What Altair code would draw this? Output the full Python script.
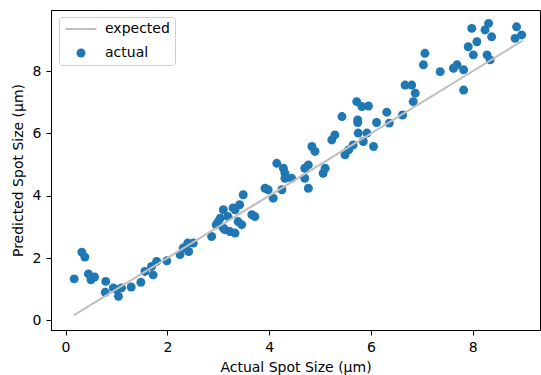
import altair as alt
import pandas as pd

# ---- data ----
actual_x = [0.17, 0.32, 0.38, 0.45, 0.50, 0.57, 0.79, 0.78, 0.94, 1.01, 1.04, 1.10, 1.29,
            1.48, 1.56, 1.69, 1.72, 1.79, 1.99, 2.25, 2.31, 2.40, 2.51, 2.42, 2.87,
            2.96, 3.00, 3.04, 3.10, 3.13, 3.10, 3.23, 3.33, 3.19, 3.29, 3.33, 3.42, 3.49,
            3.39, 3.46, 3.66, 3.72,
            3.92, 3.98, 4.08, 4.15, 4.28, 4.31, 4.31, 4.25, 4.44, 4.70, 4.77, 4.70, 4.77,
            4.84, 4.90, 5.06, 5.10, 5.23, 5.29, 5.49, 5.56, 5.43, 5.72, 5.82, 5.95, 5.74,
            5.74, 5.75, 5.92, 5.65, 5.85, 6.05, 6.11, 6.31, 6.36, 6.62, 6.67, 6.80, 6.87,
            6.83, 7.06, 7.03, 7.36, 7.62, 7.69, 7.82, 7.82, 7.98, 7.91, 8.01, 8.08, 8.24,
            8.31, 8.37, 8.28, 8.34, 8.86, 8.83, 8.96]
actual_y = [1.33, 2.19, 2.03, 1.49, 1.30, 1.39, 1.25, 0.90, 1.04, 0.98, 0.77, 1.04, 1.07,
            1.22, 1.57, 1.73, 1.46, 1.89, 1.91, 2.11, 2.32, 2.48, 2.48, 2.21, 2.69,
            3.07, 3.17, 3.28, 3.55, 2.91, 2.96, 2.85, 2.80, 3.33, 3.61, 3.55, 3.71, 4.03,
            3.17, 3.07, 3.39, 3.33,
            4.24, 4.19, 3.92, 5.04, 4.88, 4.72, 4.56, 4.19, 4.56, 4.88, 4.99, 4.56, 4.24,
            5.58, 5.42, 4.72, 4.88, 5.79, 5.95, 5.31, 5.47, 6.54, 7.02, 6.86, 6.88, 6.43,
            6.35, 6.01, 6.01, 5.63, 5.74, 5.58, 6.35, 6.68, 6.33, 6.59, 7.55, 7.55, 7.29,
            7.02, 8.57, 8.20, 7.98, 8.09, 8.20, 8.04, 7.39, 9.37, 8.78, 8.52, 8.94, 9.32,
            9.53, 9.10, 8.52, 8.36, 9.42, 9.05, 9.16]
expected_x = [0.16, 8.98]
expected_y = [0.16, 8.98]
series_names = ["expected", "actual"]
x_ticks = [0, 2, 4, 6, 8]
y_ticks = [0, 2, 4, 6, 8]

BLUE = "#1f77b4"
GREY = "#bfbfbf"
FONT = "DejaVu Sans"
FS = 14
# legend glyph for the line entry: a long thin bar (scaled by sqrt(size)/2)
LINE_GLYPH = "M -3.45 -0.22 L 3.45 -0.22 L 3.45 0.22 L -3.45 0.22 Z"

pts = pd.DataFrame({"x": actual_x, "y": actual_y, "series": ["actual"] * len(actual_x)})
line_df = pd.DataFrame({"x": expected_x, "y": expected_y})

xs = alt.Scale(domain=[-0.285, 9.32], nice=False, zero=False)
ys = alt.Scale(domain=[-0.31, 9.96], nice=False, zero=False)

x_enc = alt.X("x:Q", scale=xs, title="Actual Spot Size (μm)",
              axis=alt.Axis(values=x_ticks, grid=False, format="d"))
y_enc = alt.Y("y:Q", scale=ys, title="Predicted Spot Size (μm)",
              axis=alt.Axis(values=y_ticks, grid=False, format="d"))

legend = alt.Legend(
    title=None, orient="none", legendX=8, legendY=7,
    symbolSize=80, symbolOffset=10, clipHeight=14, rowPadding=10, labelOffset=17,
    padding=5, strokeColor="#cccccc", fillColor="rgba(255,255,255,0.8)",
    cornerRadius=3, labelFont=FONT, labelFontSize=FS, labelColor="black",
    symbolOpacity=1, symbolStrokeWidth=0,
)

points = alt.Chart(pts).mark_point(filled=True, size=80, opacity=1).encode(
    x=x_enc, y=y_enc,
    color=alt.Color("series:N", scale=alt.Scale(domain=series_names, range=[GREY, BLUE]),
                    legend=legend),
    shape=alt.Shape("series:N", scale=alt.Scale(domain=series_names, range=[LINE_GLYPH, "circle"]),
                    legend=legend),
)

line = alt.Chart(line_df).mark_line(color=GREY, strokeWidth=2).encode(x=x_enc, y=y_enc)

chart = alt.layer(points, line).properties(
    width=489, height=320,
    autosize=alt.AutoSizeParams(type="none"),
    padding={"left": 51, "top": 10, "right": 1, "bottom": 45},
).configure_view(stroke="black", strokeWidth=1).configure_axis(
    labelFont=FONT, labelFontSize=FS, labelColor="black", labelPadding=5,
    titleFont=FONT, titleFontSize=FS, titleFontWeight="normal", titleColor="black",
    tickColor="black", tickSize=5, domainColor="black", domainWidth=1,
).configure_axisX(titlePadding=6).configure_axisY(titlePadding=7)

chart.save("out.html", embed_options={"renderer": "svg", "actions": False})
